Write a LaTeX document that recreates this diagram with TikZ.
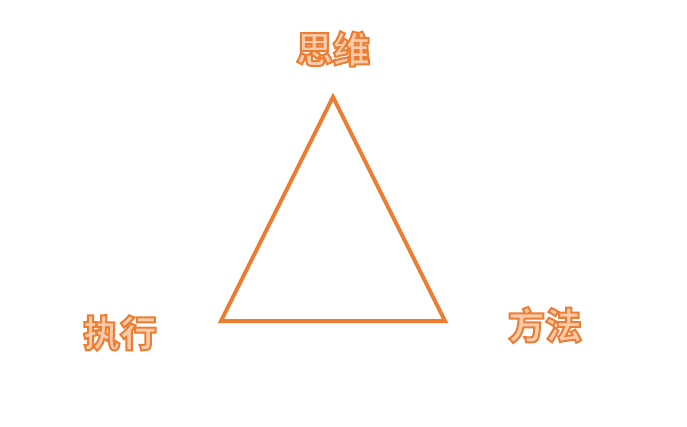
\documentclass[tikz,border=0pt]{standalone}
\usepackage{fontspec}
\newfontfamily\cjk{Noto Sans CJK SC}
\definecolor{edgeorange}{HTML}{ED7D31}
\definecolor{fillorange}{HTML}{F8CBAD}
\tikzset{
  every label/.style={font=\cjk\bfseries\fontsize{37}{40}\selectfont, text=fillorange, inner sep=0pt},
  side/.style={draw=edgeorange, line width=4pt, line join=miter}
}
\newcommand{\lbltext}[1]{\special{pdf:literal 2 Tr 2 w 0.929 0.490 0.192 RG}#1\special{pdf:literal 0 Tr}}
\begin{document}
\begin{tikzpicture}[x=1pt, y=-1pt]
            \useasboundingbox (0,0) rectangle (687,427);
            
            % corners
            \coordinate (top) at (333,97);
            \coordinate (right) at (445,321);
            \coordinate (left) at (221,321);
            
            \draw [side] (top) -- (right) -- (left) -- cycle;
            
            %   label
            \foreach \n/\l/\p in {think/思维/{333,49}, act/执行/{120,333}, way/方法/{545,325}}
            \node [every label] (\n) at (\p) {\lbltext{\l}};
        \end{tikzpicture}
\end{document}
